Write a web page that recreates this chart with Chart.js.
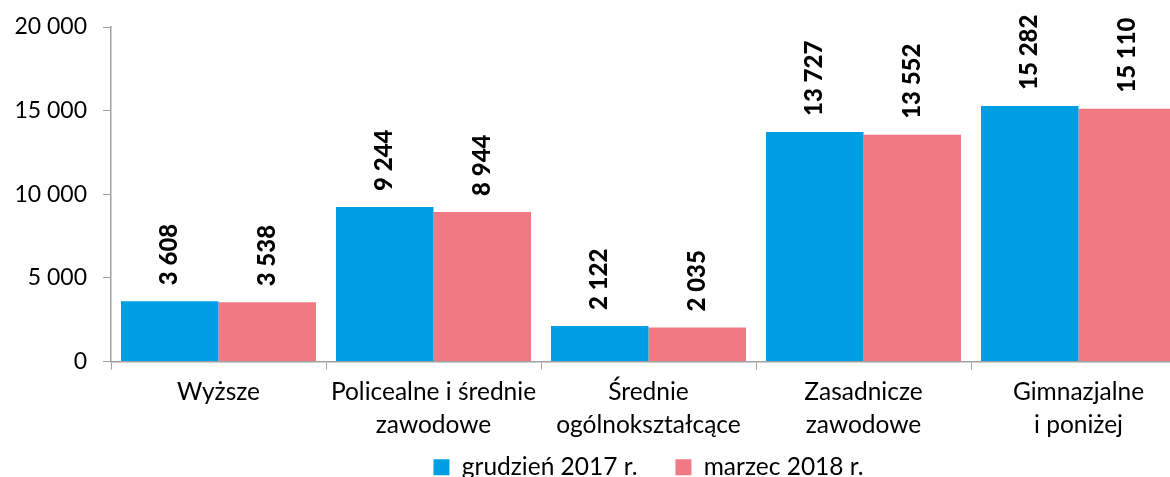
<!DOCTYPE html>
<html>
<head>
<meta charset="utf-8">
<script src="https://cdn.jsdelivr.net/npm/chart.js@4.4.1/dist/chart.umd.min.js"></script>
<style>
  html, body { margin: 0; padding: 0; background: #fff; overflow: hidden; }
  #wrap { position: relative; width: 1190px; height: 518px; }
</style>
</head>
<body>
<div id="wrap"><canvas id="chart"></canvas></div>
<script>
// categories and series
let categories = [
    ["Wyższe"],
    ["Policealne i średnie", "zawodowe"],
    ["Średnie", "ogólnokształcące"],
    ["Zasadnicze", "zawodowe"],
    ["Gimnazjalne", "i poniżej"]
];
let dec2017 = [3608, 9244, 2122, 13727, 15282];
let mar2018 = [3538, 8944, 2035, 13552, 15110];
let seriesNames = ["grudzień 2017 r.", "marzec 2018 r."];
let yTicks = [0, 5000, 10000, 15000, 20000];

const FONT = "Lato, 'DejaVu Sans', sans-serif";
const LEGEND_PAD = 38;

function fmt(v) {
    return String(v).replace(/\B(?=(\d{3})+(?!\d))/g, " ");
}

// rotated value labels above each bar
const barLabels = {
    id: "barLabels",
    afterDatasetsDraw(chart) {
        const ctx = chart.ctx;
        chart.data.datasets.forEach((ds, i) => {
            chart.getDatasetMeta(i).data.forEach((bar, j) => {
                ctx.save();
                ctx.translate(bar.x, bar.y - 16);
                ctx.rotate(-Math.PI / 2);
                ctx.font = "900 24px " + FONT;
                ctx.fillStyle = "#000";
                ctx.textAlign = "left";
                ctx.textBaseline = "middle";
                ctx.fillText(fmt(ds.data[j]), 0, 0);
                ctx.restore();
            });
        });
    }
};

// pull the legend up closer to the axis labels
const legendShift = {
    id: "legendShift",
    afterLayout(chart) {
        const lg = chart.legend;
        const h = lg.bottom - lg.top;
        lg.top = 467 - LEGEND_PAD - 12;
        lg.bottom = lg.top + h;
    }
};

new Chart(document.getElementById("chart"), {
    type: "bar",
    data: {
        labels: categories,
        datasets: [
            { label: seriesNames[0], data: dec2017, backgroundColor: "#009FE3" },
            { label: seriesNames[1], data: mar2018, backgroundColor: "#F07A84" }
        ]
    },
    options: {
        responsive: true,
        maintainAspectRatio: false,
        animation: false,
        layout: { padding: { top: 27, right: 4, left: 0, bottom: 0 } },
        datasets: {
            bar: { categoryPercentage: 0.907, barPercentage: 1.0 }
        },
        scales: {
            x: {
                afterFit: scale => { scale.height = 84; },
                grid: { drawOnChartArea: false, color: "#A0A0A0", tickLength: 8, offset: true },
                border: { color: "#A0A0A0", width: 1.5 },
                ticks: { color: "#000", font: { family: FONT, size: 24.5, lineHeight: 1.36 }, padding: 6, maxRotation: 0 }
            },
            y: {
                min: 0,
                max: 20000,
                afterBuildTicks: scale => { scale.ticks = yTicks.map(v => ({ value: v })); },
                afterFit: scale => {
                    scale.width = 111;
                    scale.paddingTop = 0;
                    scale.paddingBottom = 0;
                },
                grid: { drawOnChartArea: false, color: "#A0A0A0", tickLength: 8 },
                border: { color: "#A0A0A0", width: 1.5 },
                ticks: { color: "#000", font: { family: FONT, size: 23 }, padding: 16, callback: v => fmt(v) }
            }
        },
        plugins: {
            legend: {
                position: "bottom",
                fullSize: false,
                labels: {
                    color: "#000",
                    font: { family: FONT, size: 24.5 },
                    boxWidth: 16,
                    boxHeight: 16,
                    padding: LEGEND_PAD
                }
            },
            tooltip: { enabled: false }
        }
    },
    plugins: [barLabels, legendShift]
});
</script>
</body>
</html>
